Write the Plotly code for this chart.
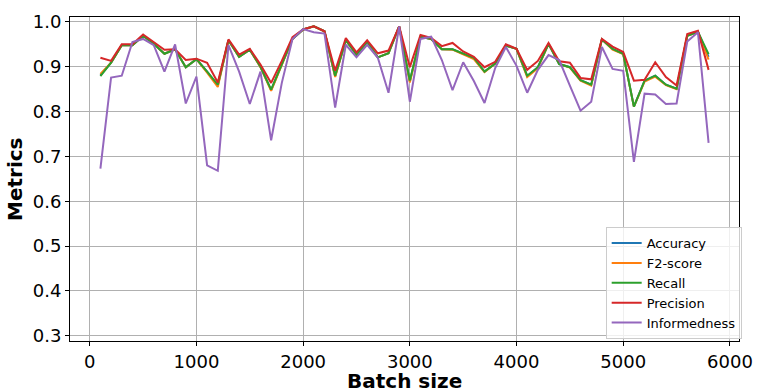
import plotly.graph_objects as go

# Batch sizes evaluated
batch_size = list(range(100, 5900, 100))

accuracy = [0.881, 0.909, 0.948, 0.948, 0.969, 0.951, 0.929, 0.939, 0.899, 0.917,
            0.889, 0.858, 0.959, 0.922, 0.938, 0.900, 0.848, 0.904, 0.962, 0.983,
            0.990, 0.979, 0.879, 0.959, 0.927, 0.955, 0.921, 0.930, 0.990, 0.867,
            0.967, 0.962, 0.939, 0.939, 0.929, 0.919, 0.889, 0.907, 0.947, 0.940,
            0.879, 0.899, 0.951, 0.906, 0.899, 0.870, 0.860, 0.961, 0.940, 0.929,
            0.811, 0.869, 0.880, 0.860, 0.851, 0.969, 0.978, 0.922]

f2_score = [0.884, 0.909, 0.948, 0.948, 0.969, 0.951, 0.929, 0.939, 0.899, 0.917,
            0.887, 0.855, 0.959, 0.922, 0.938, 0.899, 0.846, 0.903, 0.962, 0.983,
            0.990, 0.979, 0.877, 0.959, 0.927, 0.955, 0.921, 0.930, 0.990, 0.865,
            0.967, 0.962, 0.939, 0.938, 0.927, 0.917, 0.888, 0.907, 0.947, 0.940,
            0.877, 0.897, 0.951, 0.906, 0.898, 0.869, 0.858, 0.961, 0.938, 0.928,
            0.811, 0.867, 0.878, 0.859, 0.850, 0.969, 0.978, 0.916]

recall = [0.879, 0.909, 0.948, 0.948, 0.969, 0.951, 0.929, 0.939, 0.899, 0.917,
          0.889, 0.860, 0.959, 0.922, 0.938, 0.900, 0.849, 0.904, 0.962, 0.983,
          0.990, 0.979, 0.880, 0.959, 0.927, 0.955, 0.921, 0.930, 0.990, 0.869,
          0.967, 0.962, 0.939, 0.939, 0.930, 0.920, 0.889, 0.907, 0.947, 0.940,
          0.880, 0.899, 0.951, 0.906, 0.899, 0.870, 0.860, 0.961, 0.940, 0.929,
          0.811, 0.869, 0.880, 0.860, 0.851, 0.969, 0.978, 0.928]

precision = [0.920, 0.913, 0.950, 0.950, 0.972, 0.955, 0.938, 0.939, 0.915, 0.918,
             0.909, 0.865, 0.961, 0.927, 0.940, 0.905, 0.864, 0.913, 0.966, 0.983,
             0.990, 0.979, 0.891, 0.964, 0.932, 0.959, 0.930, 0.936, 0.990, 0.899,
             0.971, 0.964, 0.946, 0.953, 0.934, 0.922, 0.899, 0.911, 0.950, 0.940,
             0.893, 0.913, 0.953, 0.912, 0.909, 0.875, 0.872, 0.962, 0.945, 0.933,
             0.869, 0.871, 0.910, 0.877, 0.858, 0.973, 0.980, 0.893]

informedness = [0.673, 0.876, 0.880, 0.955, 0.962, 0.948, 0.889, 0.950, 0.818, 0.878,
                0.680, 0.668, 0.948, 0.889, 0.817, 0.889, 0.736, 0.864, 0.962, 0.984,
                0.977, 0.974, 0.809, 0.949, 0.921, 0.949, 0.920, 0.842, 0.990, 0.822,
                0.962, 0.967, 0.915, 0.848, 0.910, 0.868, 0.819, 0.897, 0.944, 0.902,
                0.842, 0.893, 0.926, 0.915, 0.858, 0.802, 0.822, 0.944, 0.895, 0.891,
                0.688, 0.840, 0.838, 0.817, 0.818, 0.956, 0.977, 0.730]

series = [
    ("Accuracy", accuracy, "#1f77b4"),
    ("F2-score", f2_score, "#ff7f0e"),
    ("Recall", recall, "#2ca02c"),
    ("Precision", precision, "#d62728"),
    ("Informedness", informedness, "#9467bd"),
]

x_ticks = [0, 1000, 2000, 3000, 4000, 5000, 6000]
y_ticks = [0.3, 0.4, 0.5, 0.6, 0.7, 0.8, 0.9, 1.0]

FONT = "DejaVu Sans"

fig = go.Figure()
for name, vals, color in series:
    fig.add_trace(go.Scatter(
        x=batch_size, y=vals, name=name, mode="lines",
        line=dict(color=color, width=2),
    ))

axis_common = dict(
    showgrid=True, gridcolor="#b0b0b0", gridwidth=1,
    showline=True, linecolor="black", linewidth=1, mirror=True,
    ticks="outside", ticklen=4, tickwidth=1, tickcolor="black",
    tickfont=dict(family=FONT, size=18, color="black"),
    zeroline=False,
)

fig.update_layout(
    width=764, height=392,
    margin=dict(l=70, r=17, t=11, b=51),
    paper_bgcolor="white", plot_bgcolor="white",
    font=dict(family=FONT, color="black"),
    xaxis=dict(range=[-185, 6085], tickvals=x_ticks,
               ticktext=[str(v) for v in x_ticks], **axis_common),
    yaxis=dict(range=[0.2884, 1.0109], tickvals=y_ticks,
               ticktext=[f"{v:.1f}" for v in y_ticks], **axis_common),
    legend=dict(
        x=1.004, y=0.006, xanchor="right", yanchor="bottom",
        bgcolor="rgba(255,255,255,0.8)", bordercolor="#cccccc", borderwidth=1,
        font=dict(family=FONT, size=13, color="black"),
        tracegroupgap=0,
    ),
    showlegend=True,
    annotations=[
        dict(text="<b>Batch size</b>", xref="paper", yref="paper",
             x=0.5, y=0, yshift=-40, xanchor="center", yanchor="middle",
             showarrow=False, font=dict(family=FONT, size=20, color="black")),
        dict(text="<b>Metrics</b>", xref="paper", yref="paper",
             x=0, y=0.5, xshift=-55, xanchor="center", yanchor="middle",
             textangle=-90, showarrow=False,
             font=dict(family=FONT, size=20, color="black")),
    ],
)

fig.write_html("out.html")
